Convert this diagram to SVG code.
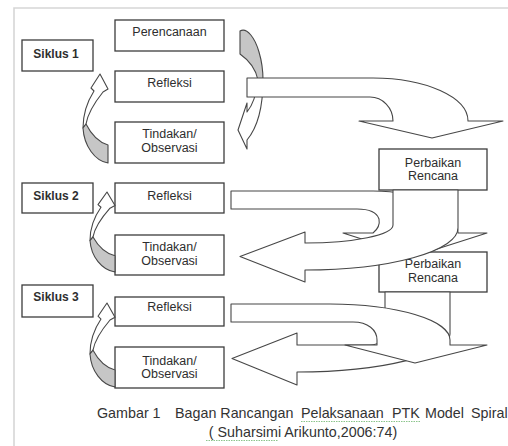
<svg xmlns="http://www.w3.org/2000/svg" xmlns:xlink="http://www.w3.org/1999/xlink" width="508" height="446" viewBox="0 0 508 446">
<style>
.frame{fill:none;stroke:#d6d6d6;stroke-width:1.6}
.box{fill:#fff;stroke:#3c3c3c;stroke-width:1.3}
.t{font-family:"Liberation Sans",Arial,sans-serif;font-size:12.5px;fill:#2e2e2e;text-anchor:middle}
.tb{font-weight:bold;font-size:12px}
.arr{fill:#fff;stroke:#474747;stroke-width:1.1;stroke-linejoin:round;vector-effect:non-scaling-stroke}
.gray{fill:#c6c6c6}
.cap{font-family:"Liberation Sans",Arial,sans-serif;font-size:14.3px;fill:#333}
.sq{fill:none;stroke:#8cc48c;stroke-width:1.2;stroke-dasharray:1.5 1}
</style>
<defs>
<g id="cra">
<path class="arr" d="M0,54 C0,40 4,28 11,17 L8,14 L17,0 L25,15 L20,18 C12,28 5,38 3,50 Z"/>
<path class="arr gray" d="M3,50 C8,60 15,68 25,71 L25,89 C12,87 1,72 0,54 Z"/>
</g>
</defs>
<rect width="508" height="446" fill="#fff"/>
<path class="frame" d="M14,446 L14,8 L508,8"/>
<g id="nodes">
<g id="siklus1"><rect class="box" x="22" y="40" width="71" height="31"/><text class="t tb" x="56" y="57.5">Siklus 1</text></g>
<g id="perencanaan"><rect class="box" x="115" y="20" width="109" height="31"/><text class="t" x="169.5" y="35.5">Perencanaan</text></g>
<g id="refleksi1"><rect class="box" x="115" y="71" width="109" height="31"/><text class="t" x="169.5" y="86.5">Refleksi</text></g>
<g id="tindakan1"><rect class="box" x="115" y="122" width="109" height="41"/><text class="t" x="169.5" y="137.5">Tindakan/</text><text class="t" x="169.5" y="151.5">Observasi</text></g>
<g id="perbaikan1"><rect class="box" x="379" y="149" width="108" height="41"/><text class="t" x="433" y="166.5">Perbaikan</text><text class="t" x="433" y="180">Rencana</text></g>
<g id="siklus2"><rect class="box" x="22" y="183" width="71" height="30"/><text class="t tb" x="56" y="199.5">Siklus 2</text></g>
<g id="refleksi2"><rect class="box" x="115" y="183" width="109" height="30"/><text class="t" x="169.5" y="199.5">Refleksi</text></g>
<g id="tindakan2"><rect class="box" x="115" y="235" width="109" height="40"/><text class="t" x="169.5" y="251">Tindakan/</text><text class="t" x="169.5" y="264.5">Observasi</text></g>
<g id="perbaikan2"><rect class="box" x="379" y="252" width="108" height="40"/><text class="t" x="433" y="267.5">Perbaikan</text><text class="t" x="433" y="281.5">Rencana</text></g>
<g id="siklus3"><rect class="box" x="22" y="285" width="71" height="32"/><text class="t tb" x="56" y="301">Siklus 3</text></g>
<g id="refleksi3"><rect class="box" x="115" y="297" width="109" height="29"/><text class="t" x="169.5" y="311">Refleksi</text></g>
<g id="tindakan3"><rect class="box" x="115" y="347" width="109" height="41"/><text class="t" x="169.5" y="364.5">Tindakan/</text><text class="t" x="169.5" y="378">Observasi</text></g>
</g>
<g id="connectors">
<use xlink:href="#cra" href="#cra" transform="translate(83,74)"/>
<use xlink:href="#cra" href="#cra" transform="translate(90,192) scale(1,0.899)"/>
<use xlink:href="#cra" href="#cra" transform="translate(90,303) scale(1,0.944)"/>
<path class="arr gray" d="M240,31 C247,27 255,38 259,52 C262,62 263,70 263,80 L258,80 C256,70 250,61 240,54 Z"/>
<path class="arr" d="M263,80 C263,110 257,128 247,140 L247,149 L238,130 L247,103 L247,112 C252,106 256,98 258,80 Z"/>
<path class="arr" d="M247,78 L373,78 A95,43 0 0 1 468,121 L503,121 L432,138 L359,121 L393,121 A23,24 0 0 0 370,97 L247,97 Z"/>
<path class="arr" d="M231,191 L373,191 A85,42 0 0 1 458,233 L487,233 L415,256 L343,233 L373,233 C378,229 380,224 379,219 C377,213 370,209 357,209 L231,209 Z"/>
<path class="arr" d="M385,292 L450,292 L450,334 A153,38 0 0 1 297,372 L297,385 L232,358.5 L297,333 L297,345 L370,345 C380,345 385,338 385,328 Z"/>
<path class="arr" d="M393,190 L458,190 L458,228 A153,42 0 0 1 305,270 L305,282 L240,256.5 L305,232 L305,243 A88,18 0 0 0 393,225 Z"/>
<path class="arr" d="M231,304 L330,304 A120,36 0 0 1 450,340 L450,345 L487,345 L415,363 L345,345 L377,345 L377,340 C377,330 368,322 353,322 L231,322 Z"/>
</g>
<g id="caption">
<text class="cap" y="418"><tspan x="97">Gambar 1</tspan><tspan x="175">Bagan Rancangan</tspan><tspan x="301">Pelaksanaan</tspan><tspan x="392">PTK</tspan><tspan x="425">Model</tspan><tspan x="471">Spiral</tspan></text>
<text class="cap" x="303" y="437" text-anchor="middle">( Suharsimi Arikunto,2006:74)</text>
<path class="sq" d="M301,421.5 L421,421.5 M206,440.5 L278,440.5"/>
</g>
</svg>
